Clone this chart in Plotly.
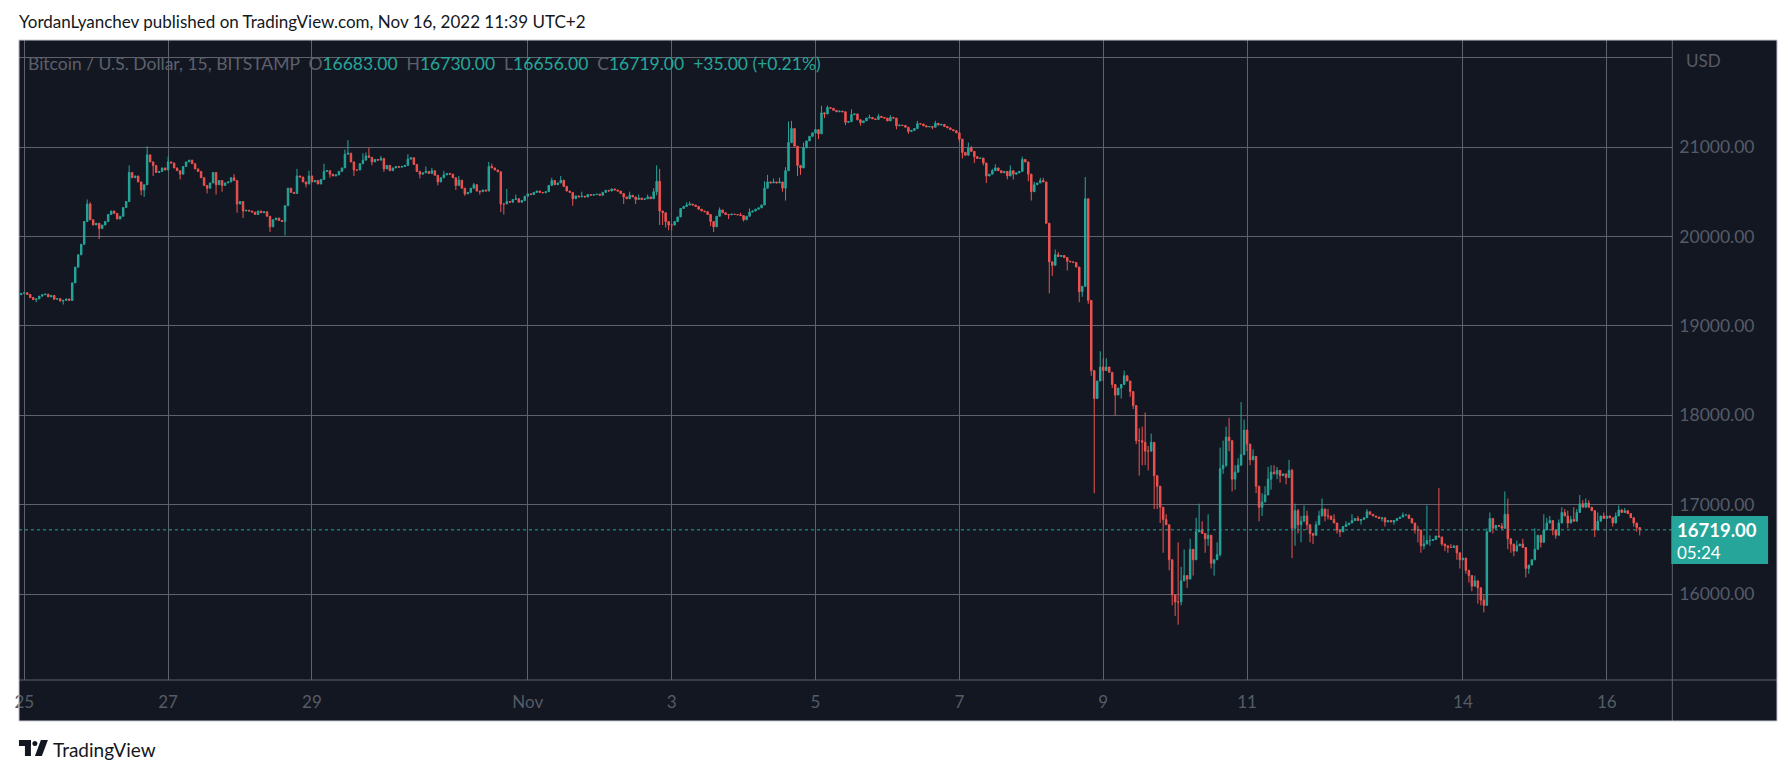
import pandas as pd
import plotly.graph_objects as go

W, H = 1791, 774

# ---------------- data (BTC/USD, BITSTAMP) ----------------
# hourly closes, first candle 2022-10-24 23:00 (UTC+2)
first_open = 19350
close = [
 19364,
 19372, 19352, 19317, 19294, 19302, 19333, 19349, 19356, 19325, 19341, 19298, 19305,
 19278, 19286, 19302, 19286, 19482, 19658, 19796, 19913, 20168, 20364, 20188, 20129,
 20149, 20090, 20129, 20168, 20247, 20286, 20259, 20196, 20227, 20325, 20392, 20717,
 20658, 20678, 20611, 20521, 20580, 20914, 20835, 20796, 20717, 20729, 20768, 20745,
 20835, 20823, 20768, 20737, 20698, 20784, 20835, 20855, 20815, 20757, 20729, 20658,
 20572, 20541, 20600, 20717, 20580, 20627, 20572, 20600, 20611, 20658, 20627, 20364,
 20392, 20286, 20294, 20286, 20274, 20247, 20286, 20266, 20278, 20227, 20109, 20188,
 20207, 20180, 20168, 20345, 20541, 20494, 20482, 20678, 20666, 20611, 20588, 20678,
 20611, 20627, 20588, 20639, 20729, 20737, 20698, 20678, 20690, 20729, 20768, 20921,
 20933, 20835, 20745, 20745, 20815, 20855, 20902, 20886, 20835, 20863, 20855, 20874,
 20757, 20796, 20737, 20768, 20784, 20776, 20784, 20796, 20866, 20882, 20807, 20729,
 20698, 20713, 20729, 20706, 20737, 20686, 20611, 20658, 20690, 20706, 20698, 20658,
 20572, 20631, 20541, 20478, 20494, 20541, 20580, 20509, 20502, 20521, 20509, 20784,
 20768, 20745, 20725, 20364, 20364, 20392, 20384, 20415, 20423, 20384, 20403, 20451,
 20478, 20470, 20494, 20509, 20494, 20490, 20502, 20572, 20627, 20580, 20600, 20631,
 20561, 20509, 20494, 20423, 20455, 20443, 20451, 20443, 20470, 20462, 20470, 20474,
 20462, 20494, 20517, 20509, 20533, 20521, 20509, 20482, 20443, 20423, 20462, 20443,
 20415, 20431, 20415, 20423, 20443, 20423, 20502, 20619, 20286, 20266, 20168, 20129,
 20129, 20168, 20219, 20314, 20337, 20353, 20364, 20353, 20337, 20306, 20286, 20278,
 20247, 20168, 20109, 20227, 20298, 20266, 20247, 20243, 20251, 20247, 20243, 20235,
 20188, 20227, 20274, 20286, 20306, 20321, 20353, 20541, 20611, 20600, 20611, 20600,
 20611, 20541, 20737, 21051, 21208, 21011, 20796, 20768, 20992, 21070, 21121, 21160,
 21196, 21149, 21384, 21372, 21443, 21435, 21412, 21396, 21404, 21396, 21278, 21286,
 21364, 21372, 21306, 21274, 21294, 21325, 21333, 21317, 21310, 21345, 21333, 21325,
 21294, 21333, 21325, 21239, 21247, 21243, 21223, 21176, 21188, 21208, 21263, 21259,
 21239, 21227, 21231, 21223, 21267, 21247, 21255, 21231, 21216, 21196, 21184, 21160,
 21090, 20941, 20910, 20992, 20953, 20894, 20874, 20878, 20823, 20678, 20698, 20737,
 20768, 20737, 20713, 20729, 20678, 20737, 20698, 20713, 20729, 20863, 20835, 20698,
 20502, 20580, 20600, 20627, 20611, 20149, 19717, 19678, 19796, 19776, 19788, 19765,
 19725, 19717, 19710, 19659, 19384, 19443, 20423, 19286, 18501, 18188, 18384, 18541,
 18501, 18541, 18482, 18345, 18227, 18305, 18345, 18443, 18384, 18266, 18109, 17717,
 17717, 17698, 17599, 17599, 17698, 17325, 17207, 16972, 16835, 16776, 16384, 15991,
 15913, 15913, 16148, 16207, 16168, 16501, 16384, 16697, 16717, 16678, 16619, 16658,
 16344, 16384, 16442, 17403, 17442, 17756, 17717, 17286, 17364, 17442, 17560, 17835,
 17678, 17502, 17541, 17207, 16972, 17031, 17109, 17286, 17364, 17345, 17384, 17325,
 17345, 17305, 17384, 16736, 16933, 16776, 16815, 16874, 16776, 16678, 16658, 16776,
 16874, 16952, 16874, 16874, 16835, 16795, 16717, 16697, 16756, 16776, 16795, 16823,
 16846, 16823, 16835, 16854, 16921, 16893, 16874, 16862, 16846, 16854, 16807, 16823,
 16807, 16823, 16846, 16862, 16885, 16885, 16846, 16795, 16717, 16717, 16540, 16560,
 16599, 16599, 16611, 16650, 16639, 16560, 16540, 16521, 16521, 16540, 16462, 16384,
 16403, 16266, 16207, 16089, 16148, 16070, 15933, 15874, 16697, 16846, 16736, 16768,
 16760, 16736, 16893, 16619, 16560, 16481, 16540, 16560, 16521, 16286, 16325, 16384,
 16501, 16658, 16579, 16717, 16795, 16823, 16717, 16658, 16795, 16913, 16874, 16795,
 16835, 16815, 16913, 17011, 16972, 17019, 16972, 16933, 16717, 16815, 16874, 16846,
 16874, 16854, 16795, 16874, 16941, 16913, 16933, 16901, 16854, 16795, 16744, 16719,
]

# notable wick extremes, keyed by hours after 2022-10-25 00:00
wick_high = {
 21: 20415, 22: 20384, 35: 20796, 41: 21011, 48: 20894, 70: 20698, 91: 20757, 95: 20737,
 100: 20815, 107: 20972, 108: 21078, 113: 20933, 114: 20941, 115: 20992, 119: 20902, 128: 20921,
 134: 20784, 136: 20768, 140: 20737, 145: 20678, 150: 20600, 155: 20835, 156: 20815, 161: 20533,
 164: 20470, 176: 20658, 179: 20678, 186: 20502, 202: 20502, 205: 20470, 208: 20470, 210: 20541,
 211: 20796, 212: 20757, 221: 20384, 222: 20392, 232: 20325, 239: 20266, 242: 20314, 247: 20619,
 248: 20690, 250: 20650, 252: 20658, 254: 20776, 255: 21286, 256: 21294, 260: 21051, 266: 21463,
 268: 21466, 276: 21423, 282: 21364, 285: 21372, 289: 21357, 298: 21294, 304: 21294, 315: 21051,
 316: 21011, 323: 20757, 324: 20808, 329: 20796, 333: 20894, 337: 20612, 339: 20658, 340: 20658,
 344: 19855, 345: 19827, 354: 20666, 359: 18717, 360: 18639, 361: 18639, 367: 18501, 372: 17855,
 373: 17874, 374: 18031, 375: 17658, 376: 17796, 378: 17305, 380: 16972, 381: 16893, 385: 16579,
 386: 16305, 387: 16501, 389: 16619, 391: 16854, 392: 17011, 393: 16815, 395: 16893, 398: 16579,
 399: 17639, 400: 17717, 401: 17874, 402: 17972, 404: 17442, 405: 17521, 406: 18148, 407: 17952,
 408: 17815, 410: 17620, 413: 17129, 414: 17207, 415: 17423, 416: 17442, 417: 17442, 418: 17423,
 422: 17502, 423: 17403, 424: 17011, 425: 16952, 426: 16874, 427: 16991, 428: 16933, 431: 16815,
 432: 16933, 433: 17070, 435: 16952, 437: 16893, 441: 16815, 443: 16893, 445: 16874, 448: 16952,
 460: 16913, 465: 16764, 467: 16658, 468: 16991, 469: 16658, 472: 17188, 476: 16560, 484: 16207,
 487: 15991, 488: 16736, 489: 16913, 493: 16795, 494: 17149, 495: 17070, 498: 16599, 500: 16619,
 504: 16736, 507: 16893, 508: 16854, 509: 16874, 512: 16835, 513: 16972, 514: 16952, 515: 16933,
 516: 16874, 517: 16972, 518: 16952, 519: 17109, 520: 17050, 521: 17070, 522: 17050, 525: 16913,
 527: 16913, 531: 16913, 532: 16991, 533: 16952, 534: 16963, 539: 16730,
}
wick_low = {
 4: 19266, 13: 19239, 25: 19972, 39: 20462, 40: 20443, 43: 20678, 52: 20639, 61: 20482, 64: 20470,
 66: 20502, 71: 20266, 73: 20208, 82: 20051, 87: 20011, 94: 20549, 102: 20658, 110: 20678,
 116: 20796, 120: 20725, 132: 20650, 138: 20572, 144: 20521, 147: 20455, 152: 20470, 159: 20274,
 160: 20247, 183: 20345, 200: 20364, 204: 20364, 211: 20462, 212: 20129, 213: 20129, 214: 20102,
 215: 20070, 216: 20070, 229: 20117, 230: 20051, 235: 20196, 240: 20168, 253: 20502, 254: 20403,
 258: 20678, 259: 20690, 265: 21090, 267: 21325, 274: 21247, 279: 21239, 291: 21200, 295: 21149,
 303: 21200, 312: 21051, 313: 20874, 317: 20823, 320: 20796, 321: 20600, 328: 20639, 330: 20639,
 335: 20619, 336: 20403, 342: 19364, 343: 19560, 348: 19619, 352: 19266, 353: 19325, 354: 19502,
 355: 19247, 356: 18442, 357: 17129, 358: 18227, 359: 18384, 360: 18384, 363: 18305, 364: 18000,
 366: 18188, 369: 18207, 370: 18070, 371: 17678, 372: 17325, 373: 17442, 374: 17442, 375: 17384,
 377: 16952, 378: 16952, 379: 16795, 380: 16462, 382: 16266, 383: 15874, 384: 15756, 385: 15658,
 386: 15874, 388: 16070, 390: 16207, 394: 16462, 395: 16540, 396: 16286, 397: 16207, 399: 16422,
 400: 17345, 401: 17423, 402: 17599, 403: 17148, 404: 17168, 407: 17678, 408: 17599, 409: 17442,
 411: 17129, 412: 16815, 413: 16874, 416: 17168, 418: 17286, 419: 17246, 421: 17227, 423: 16403,
 424: 16540, 425: 16678, 426: 16579, 428: 16717, 429: 16579, 430: 16560, 434: 16815, 435: 16835,
 438: 16678, 439: 16639, 446: 16776, 453: 16815, 454: 16756, 457: 16776, 464: 16678, 465: 16579,
 466: 16462, 467: 16501, 469: 16540, 473: 16540, 474: 16481, 475: 16462, 478: 16384, 479: 16286,
 481: 16227, 482: 16129, 483: 16031, 485: 15893, 486: 15874, 487: 15795, 490: 16678, 494: 16736,
 495: 16501, 496: 16462, 497: 16423, 501: 16187, 502: 16227, 505: 16579, 506: 16521, 510: 16658,
 511: 16619, 515: 16736, 524: 16639, 530: 16756, 537: 16756, 538: 16697, 539: 16656,
}

x_tickvals = ["2022-10-25", "2022-10-27", "2022-10-29", "2022-11-01", "2022-11-03", "2022-11-05",
              "2022-11-07", "2022-11-09", "2022-11-11", "2022-11-14", "2022-11-16"]
x_ticktext = ["25", "27", "29", "Nov", "3", "5", "7", "9", "11", "14", "16"]
y_tickvals = [16000, 17000, 18000, 19000, 20000, 21000, 22000]
y_ticktext = ["16000.00", "17000.00", "18000.00", "19000.00", "20000.00", "21000.00", ""]

legend_symbol = "Bitcoin / U.S. Dollar, 15, BITSTAMP"
last_ohlc = {"O": "16683.00", "H": "16730.00", "L": "16656.00", "C": "16719.00"}
last_change = "+35.00 (+0.21%)"
countdown = "05:24"
header = "YordanLyanchev published on TradingView.com, Nov 16, 2022 11:39 UTC+2"

# ---------------- build candles ----------------
times = pd.date_range("2022-10-24 23:00", periods=len(close), freq="h")
opens = [first_open] + close[:-1]
highs, lows = [], []
for i, (o, c) in enumerate(zip(opens, close)):
    hr = i - 1
    hi, lo = max(o, c), min(o, c)
    if hr in wick_high:
        hi = max(hi, wick_high[hr])
    if hr in wick_low:
        lo = min(lo, wick_low[hr])
    highs.append(hi)
    lows.append(lo)

# ---------------- style ----------------
BG = "#131722"
GRID = "#5f626c"
AXT = "#565b67"
TEAL = "#26a69a"
RED = "#ef5350"
BORDER = "#c9ccd3"
FONT = "Lato"

def px(x):
    return x / W

def py(y):
    return 1 - y / H

L, R_PLOT, R_PANEL = 14, 1672, 1777
T, B_PLOT, B_PANEL = 40, 680, 721

fig = go.Figure(go.Candlestick(
    x=times, open=opens, high=highs, low=lows, close=close,
    increasing=dict(line=dict(color=TEAL, width=1), fillcolor=TEAL),
    decreasing=dict(line=dict(color=RED, width=1), fillcolor=RED),
    whiskerwidth=0, hoverinfo="skip", showlegend=False,
))

last_price = close[-1]

shapes = [
    dict(type="rect", xref="paper", yref="paper", x0=px(L), x1=px(R_PANEL), y0=py(B_PANEL), y1=py(T),
         fillcolor=BG, line=dict(width=0), layer="below"),
    dict(type="line", xref="paper", yref="paper", x0=px(R_PLOT), x1=px(R_PLOT), y0=py(B_PANEL), y1=py(T),
         line=dict(color=GRID, width=1)),
    dict(type="line", xref="paper", yref="paper", x0=px(L), x1=px(R_PANEL), y0=py(B_PLOT), y1=py(B_PLOT),
         line=dict(color=GRID, width=1)),
    dict(type="line", xref="paper", yref="y", x0=px(L), x1=px(R_PLOT), y0=last_price, y1=last_price,
         line=dict(color=TEAL, width=1, dash="dot")),
    dict(type="rect", xref="paper", yref="paper", x0=px(L), x1=px(R_PANEL), y0=py(B_PANEL), y1=py(T),
         line=dict(color=BORDER, width=1), fillcolor="rgba(0,0,0,0)"),
    dict(type="rect", xref="paper", yref="paper", x0=px(1671), x1=px(1768), y0=py(564), y1=py(516),
         fillcolor=TEAL, line=dict(width=0)),
    # TradingView logo
    dict(type="rect", xref="paper", yref="paper", x0=px(14), x1=px(26), y0=py(746), y1=py(740),
         fillcolor="#131722", line=dict(width=0)),
    dict(type="rect", xref="paper", yref="paper", x0=px(20), x1=px(26), y0=py(756), y1=py(740),
         fillcolor="#131722", line=dict(width=0)),
    dict(type="circle", xref="paper", yref="paper", x0=px(27.5), x1=px(32.5), y0=py(746), y1=py(741),
         fillcolor="#131722", line=dict(width=0)),
    dict(type="path", xref="paper", yref="paper",
         path=f"M {px(36)} {py(740)} L {px(43)} {py(740)} L {px(37)} {py(756)} L {px(30)} {py(756)} Z",
         fillcolor="#131722", line=dict(width=0)),
]

sep = "&nbsp;&nbsp;"
legend_html = f"<span style='color:#5d606b'>{legend_symbol}</span>{sep}"
for k, v in last_ohlc.items():
    legend_html += f"<span style='color:#5d606b'>{k}</span><span style='color:{TEAL}'>{v}</span>{sep}"
legend_html += f"<span style='color:{TEAL}'>{last_change}</span>"

annotations = [
    dict(text=header, x=px(12), y=py(21), xref="paper", yref="paper", xanchor="left", yanchor="middle",
         showarrow=False, font=dict(family=FONT, size=17, color="#131722")),
    dict(text=legend_html, x=px(21), y=py(63), xref="paper", yref="paper", xanchor="left", yanchor="middle",
         showarrow=False, font=dict(family=FONT, size=17.5, color="#5d606b")),
    dict(text="USD", x=px(1684), y=py(61), xref="paper", yref="paper", xanchor="left", yanchor="middle",
         showarrow=False, font=dict(family=FONT, size=17, color=AXT)),
    dict(text=f"<b>{last_price:.2f}</b>", x=px(1675), y=py(530), xref="paper", yref="paper",
         xanchor="left", yanchor="middle", showarrow=False, font=dict(family=FONT, size=18.5, color="white")),
    dict(text=countdown, x=px(1675), y=py(552), xref="paper", yref="paper",
         xanchor="left", yanchor="middle", showarrow=False, font=dict(family=FONT, size=17, color="white")),
    dict(text="TradingView", x=px(46), y=py(749), xref="paper", yref="paper", xanchor="left", yanchor="middle",
         showarrow=False, font=dict(family=FONT, size=19, color="#131722")),
]

fig.update_layout(
    width=W, height=H, margin=dict(l=0, r=0, t=0, b=0),
    paper_bgcolor="white", plot_bgcolor=BG, hovermode=False,
    shapes=shapes, annotations=annotations,
    xaxis=dict(
        domain=[px(L), px(R_PLOT)], type="date",
        range=["2022-10-24 22:14", "2022-11-16 21:53"],
        rangeslider=dict(visible=False),
        tickvals=x_tickvals, ticktext=x_ticktext,
        showgrid=True, gridcolor=GRID, gridwidth=1, zeroline=False, showline=False, ticks="",
        tickfont=dict(family=FONT, size=17, color=AXT), ticklabelstandoff=10,
    ),
    yaxis=dict(
        domain=[py(B_PLOT), py(T)], range=[15039, 22199], side="right",
        tickvals=y_tickvals, ticktext=y_ticktext,
        showgrid=True, gridcolor=GRID, gridwidth=1, zeroline=False, showline=False, ticks="",
        tickfont=dict(family=FONT, size=17.5, color=AXT), ticklabelstandoff=6,
    ),
)

fig.write_html("out.html")
